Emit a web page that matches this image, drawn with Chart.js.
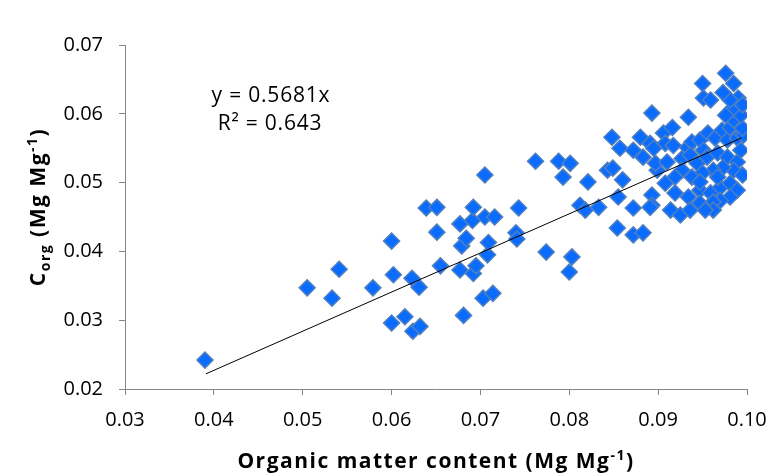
<!DOCTYPE html>
<html>
<head>
<meta charset="utf-8">
<script src="https://cdn.jsdelivr.net/npm/chart.js@4.4.0/dist/chart.umd.min.js"></script>
<style>
    html, body { margin: 0; padding: 0; background: #fff; }
</style>
</head>
<body>
<canvas id="chart" width="782" height="476"></canvas>
<script>
// Organic matter content (x) and C_org (y)
const omContent = [
    0.0390, 0.0505, 0.0533, 0.0541, 0.0579, 0.0600, 0.0602, 0.0600, 0.0615, 0.0624,
    0.0632, 0.0623, 0.0631, 0.0639, 0.0651, 0.0651, 0.0655, 0.0677, 0.0681, 0.0679,
    0.0684, 0.0677, 0.0691, 0.0692, 0.0692, 0.0695, 0.0703, 0.0714, 0.0708, 0.0709,
    0.0705, 0.0716, 0.0705, 0.0740, 0.0741, 0.0743, 0.0774, 0.0762, 0.0788, 0.0801,
    0.0793, 0.0803, 0.0800, 0.0812, 0.0818, 0.0833, 0.0821, 0.0843, 0.0849, 0.0860,
    0.0855, 0.0848, 0.0857, 0.0854, 0.0872, 0.0883, 0.0872, 0.0880, 0.0872, 0.0883,
    0.0891, 0.0893, 0.0893, 0.0893, 0.0899, 0.0895, 0.0897, 0.0891,
    0.0906, 0.0916, 0.0934, 0.0908, 0.0917, 0.0933, 0.0938, 0.0947, 0.0951, 0.0956,
    0.0964, 0.0972, 0.0978, 0.0981, 0.0989, 0.0996, 0.0995, 0.0985, 0.0993, 0.0984,
    0.0990, 0.0981, 0.0973, 0.0985, 0.0976, 0.0950, 0.0951, 0.0959, 0.0910, 0.0927,
    0.0936, 0.0944, 0.0955, 0.0967, 0.0978, 0.0989, 0.0985, 0.0973, 0.0962, 0.0950,
    0.0938, 0.0927, 0.0919, 0.0908, 0.0914, 0.0925, 0.0919, 0.0934, 0.0947, 0.0959,
    0.0970, 0.0981, 0.0989, 0.0981, 0.0970, 0.0962, 0.0947, 0.0962, 0.0953, 0.0936,
    0.0967, 0.0947, 0.0993, 0.0995, 0.0995, 0.0976
];
const cOrg = [
    0.0242, 0.0347, 0.0332, 0.0374, 0.0347, 0.0415, 0.0366, 0.0296, 0.0305, 0.0284,
    0.0291, 0.0361, 0.0348, 0.0463, 0.0464, 0.0428, 0.0379, 0.0373, 0.0307, 0.0408,
    0.0419, 0.0440, 0.0445, 0.0464, 0.0368, 0.0379, 0.0332, 0.0339, 0.0395, 0.0413,
    0.0450, 0.0450, 0.0511, 0.0427, 0.0418, 0.0463, 0.0399, 0.0531, 0.0531, 0.0528,
    0.0508, 0.0392, 0.0370, 0.0467, 0.0460, 0.0464, 0.0501, 0.0518, 0.0521, 0.0504,
    0.0479, 0.0566, 0.0550, 0.0434, 0.0424, 0.0427, 0.0463, 0.0566, 0.0547, 0.0537,
    0.0557, 0.0601, 0.0482, 0.0467, 0.0518, 0.0550, 0.0528, 0.0464,
    0.0572, 0.0580, 0.0595, 0.0557, 0.0554, 0.0551, 0.0559, 0.0562, 0.0547, 0.0572,
    0.0565, 0.0576, 0.0562, 0.0580, 0.0565, 0.0569, 0.0579, 0.0591, 0.0598, 0.0608,
    0.0623, 0.0620, 0.0631, 0.0644, 0.0659, 0.0644, 0.0623, 0.0620, 0.0530, 0.0535,
    0.0540, 0.0528, 0.0537, 0.0543, 0.0537, 0.0530, 0.0518, 0.0522, 0.0518, 0.0514,
    0.0508, 0.0518, 0.0508, 0.0499, 0.0460, 0.0453, 0.0485, 0.0479, 0.0489, 0.0485,
    0.0493, 0.0499, 0.0489, 0.0479, 0.0474, 0.0472, 0.0470, 0.0460, 0.0460, 0.0460,
    0.0508, 0.0501, 0.0547, 0.0511, 0.0613, 0.0598
];

// linear trend through origin, end points of the drawn line
const trendX = [0.0391, 0.0994];
const trendY = [0.0222, 0.0565];

const xTicks = [0.03, 0.04, 0.05, 0.06, 0.07, 0.08, 0.09, 0.10];
const yTicks = [0.02, 0.03, 0.04, 0.05, 0.06, 0.07];
const equationLines = ['y = 0.5681x', 'R² = 0.643'];

const axisGrey = '#868686';
const tickFont = { family: '"Open Sans", sans-serif', size: 20 };

// draws runs of text with sub/superscripts, centred on (cx, cy)
function drawParts(ctx, parts, cx, cy) {
    let total = 0;
    parts.forEach(p => {
        ctx.font = p.font;
        p.w = ctx.measureText(p.text).width;
        total += p.w;
    });
    let x = cx - total / 2;
    parts.forEach(p => {
        ctx.font = p.font;
        ctx.fillText(p.text, x, cy + (p.dy || 0));
        x += p.w;
    });
}

const labelsPlugin = {
    id: 'labels',
    beforeDraw(chart) {
        const ctx = chart.ctx;
        ctx.save();
        ctx.fillStyle = '#fff';
        ctx.fillRect(0, 0, chart.width, chart.height);
        ctx.restore();
    },
    afterDraw(chart) {
        const ctx = chart.ctx;
        const area = chart.chartArea;
        ctx.save();
        ctx.fillStyle = '#000';
        ctx.textBaseline = 'alphabetic';
        ctx.letterSpacing = '1.5px';

        const bold = 'bold 21px "Open Sans", sans-serif';
        const boldSmall = 'bold 14px "Open Sans", sans-serif';

        // x axis title
        drawParts(ctx, [
            { text: 'Organic matter content (Mg Mg', font: bold },
            { text: '-1', font: boldSmall, dy: -8 },
            { text: ')', font: bold }
        ], (area.left + area.right) / 2, 468);

        // y axis title
        ctx.save();
        ctx.translate(45, 207);
        ctx.rotate(-Math.PI / 2);
        drawParts(ctx, [
            { text: 'C', font: bold },
            { text: 'org', font: boldSmall, dy: 5 },
            { text: ' (Mg Mg', font: bold },
            { text: '-1', font: boldSmall, dy: -8 },
            { text: ')', font: bold }
        ], 0, 0);
        ctx.restore();

        // trend equation
        ctx.letterSpacing = '0.8px';
        ctx.font = '21px "Open Sans", sans-serif';
        ctx.textAlign = 'center';
        ctx.fillText(equationLines[0], 271, 102);
        ctx.fillText(equationLines[1], 270, 130);
        ctx.restore();
    }
};

const ctx = document.getElementById('chart').getContext('2d');
new Chart(ctx, {
    type: 'scatter',
    data: {
        datasets: [
            {
                type: 'line',
                label: 'Trend',
                data: trendX.map((x, i) => ({ x: x, y: trendY[i] })),
                borderColor: '#000',
                borderWidth: 1,
                pointRadius: 0,
                fill: false
            },
            {
                label: 'Samples',
                data: omContent.map((x, i) => ({ x: x, y: cOrg[i] })),
                pointStyle: 'rectRot',
                pointRadius: 8,
                pointBackgroundColor: '#0a6cff',
                pointBorderColor: '#4f7fbf',
                pointBorderWidth: 1.5
            }
        ]
    },
    options: {
        responsive: false,
        animation: false,
        layout: { padding: { top: 45, right: 35, bottom: 0, left: 0 } },
        plugins: {
            legend: { display: false },
            tooltip: { enabled: false }
        },
        scales: {
            x: {
                type: 'linear',
                min: xTicks[0],
                max: xTicks[xTicks.length - 1],
                afterFit: scale => { scale.height = 87; },
                afterBuildTicks: scale => { scale.ticks = xTicks.map(v => ({ value: v })); },
                ticks: {
                    font: tickFont,
                    color: '#000',
                    padding: 13,
                    callback: v => v.toFixed(2)
                },
                grid: { drawOnChartArea: false, drawTicks: true, tickLength: 6, color: axisGrey },
                border: { color: axisGrey, width: 1 }
            },
            y: {
                type: 'linear',
                min: yTicks[0],
                max: yTicks[yTicks.length - 1],
                afterFit: scale => { scale.width = 125; },
                afterBuildTicks: scale => { scale.ticks = yTicks.map(v => ({ value: v })); },
                ticks: {
                    font: tickFont,
                    color: '#000',
                    padding: 16,
                    callback: v => v.toFixed(2)
                },
                grid: { drawOnChartArea: false, drawTicks: true, tickLength: 6, color: axisGrey },
                border: { color: axisGrey, width: 1 }
            }
        }
    },
    plugins: [labelsPlugin]
});
</script>
</body>
</html>
